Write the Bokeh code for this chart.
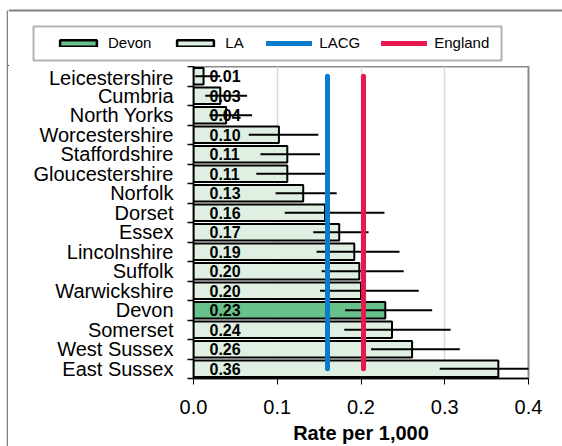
from bokeh.plotting import figure
from bokeh.models import (ColumnDataSource, Range1d, FixedTicker, NumeralTickFormatter,
                          Legend, LegendItem, BoxAnnotation, Span, Spacer)
from bokeh.layouts import column, row
from bokeh.core.properties import value
from bokeh.embed import file_html
from bokeh.resources import INLINE

# ---- data ----
areas = ["Leicestershire", "Cumbria", "North Yorks", "Worcestershire", "Staffordshire",
         "Gloucestershire", "Norfolk", "Dorset", "Essex", "Lincolnshire", "Suffolk",
         "Warwickshire", "Devon", "Somerset", "West Sussex", "East Sussex"]
rates = [0.012, 0.032, 0.039, 0.102, 0.112, 0.112, 0.131, 0.157, 0.174, 0.192, 0.198,
         0.200, 0.229, 0.237, 0.261, 0.364]
ci_low = [0.002, 0.014, 0.019, 0.066, 0.080, 0.075, 0.098, 0.109, 0.143, 0.147, 0.153,
          0.151, 0.181, 0.180, 0.212, 0.294]
ci_high = [0.032, 0.064, 0.070, 0.149, 0.151, 0.160, 0.171, 0.228, 0.209, 0.246, 0.251,
           0.269, 0.285, 0.307, 0.318, 0.450]
lacg_rate = 0.16
england_rate = 0.203
highlight = "Devon"
x_ticks = [0.0, 0.1, 0.2, 0.3, 0.4]
legend_labels = ["Devon", "LA", "LACG", "England"]

FONT = "Liberation Sans"
LA_FILL = "#dff0e3"
DEVON_FILL = "#68c08b"
BLUE = "#0a7ccc"
RED = "#e8174f"
BORDER_GRAY = "#808080"

n = len(areas)
ypos = [n - 1 - i for i in range(n)]
labels = ["%.2f" % v for v in rates]

la_idx = [i for i, a in enumerate(areas) if a != highlight]
dv_idx = [i for i, a in enumerate(areas) if a == highlight]


def sub(idx):
    return ColumnDataSource(dict(y=[ypos[i] for i in idx], v=[rates[i] for i in idx]))


src_all = ColumnDataSource(dict(y=ypos, v=rates, lo=ci_low, hi=ci_high, lab=labels))

# ---------------- main chart ----------------
W = 554
p = figure(width=W, height=380, output_backend="svg", toolbar_location=None,
           x_range=Range1d(0, 0.4), y_range=Range1d(-0.5, n - 0.5),
           min_border_left=185, min_border_right=34, min_border_top=0, min_border_bottom=63)
p.frame_align = False
p.background_fill_color = "white"
p.border_fill_color = "white"
p.outline_line_color = "#8a8a8a"
p.outline_line_width = 2

BAR_STYLE = dict(line_color="black", line_width=2)
r_la = p.hbar(y="y", right="v", left=0, height=0.84, source=sub(la_idx),
              fill_color=LA_FILL, **BAR_STYLE)
r_dv = p.hbar(y="y", right="v", left=0, height=0.84, source=sub(dv_idx),
              fill_color=DEVON_FILL, **BAR_STYLE)

p.text(x=0, y="y", text="lab", source=src_all, x_offset=16, text_align="left",
       text_baseline="middle", text_font=value(FONT), text_font_style="bold",
       text_font_size="16px", text_color="black")

p.segment(x0="lo", y0="y", x1="hi", y1="y", source=src_all, line_color="black", line_width=2)

ymin, ymax = min(ypos), max(ypos)
p.line(x=[lacg_rate, lacg_rate], y=[ymin, ymax], line_color=BLUE, line_width=5,
       line_cap="round")
p.line(x=[england_rate, england_rate], y=[ymin, ymax], line_color=RED, line_width=5,
       line_cap="round")

xa = p.xaxis[0]
xa.ticker = FixedTicker(ticks=x_ticks)
xa.formatter = NumeralTickFormatter(format="0.0")
xa.axis_label = "Rate per 1,000"
xa.axis_label_text_font = FONT
xa.axis_label_text_font_style = "bold"
xa.axis_label_text_font_size = "20px"
xa.axis_label_text_color = "black"
xa.axis_label_standoff = 5
xa.major_label_text_font = FONT
xa.major_label_text_font_size = "20px"
xa.major_label_text_color = "black"
xa.major_label_standoff = 15
xa.major_tick_in = 0
xa.major_tick_out = 6
xa.major_tick_line_color = "black"
xa.minor_tick_line_color = None
xa.axis_line_color = "black"
xa.axis_line_width = 1.5

ya = p.yaxis[0]
ya.ticker = FixedTicker(ticks=ypos, minor_ticks=[y - 0.5 for y in range(n + 1)])
ya.major_label_overrides = {ypos[i]: areas[i] for i in range(n)}
ya.major_label_text_font = FONT
ya.major_label_text_font_size = "20px"
ya.major_label_text_color = "black"
ya.major_label_standoff = 14
ya.major_tick_in = 0
ya.major_tick_out = 0
ya.minor_tick_in = 0
ya.minor_tick_out = 6
ya.minor_tick_line_color = "black"
ya.minor_tick_line_width = 1.5
ya.axis_line_color = "black"
ya.axis_line_width = 1.5

p.xgrid.grid_line_color = "#d9d9d9"
p.xgrid.grid_line_width = 1.5
p.ygrid.grid_line_color = None

# ---------------- header with legend ----------------
TOP_H = 66
top = figure(width=W, height=TOP_H, output_backend="svg", toolbar_location=None,
             x_range=Range1d(0, W), y_range=Range1d(0, TOP_H),
             x_axis_type=None, y_axis_type=None, min_border=0)
top.frame_align = False
top.grid.grid_line_color = None
top.outline_line_color = None
top.background_fill_color = "white"
top.border_fill_color = "white"

# chart-area border (top edge)
top.add_layout(Span(location=TOP_H - 10, dimension="width", line_color=BORDER_GRAY,
                    line_width=2))
# legend frame
top.add_layout(BoxAnnotation(left=25, right=493, top=TOP_H - 26, bottom=TOP_H - 60,
                             fill_color="white", fill_alpha=1.0,
                             line_color="black", line_width=2))

# legend-only renderers: one point each, far outside the visible range
hidden = lambda: ColumnDataSource(dict(x=[-1000, -990], y=[-1000, -1000], v=[-995, -995]))
LEG_BAR = dict(line_color="black", line_width=2.5)
l_dv = top.hbar(y="y", right="v", left="x", height=1, source=hidden(),
                fill_color=DEVON_FILL, **LEG_BAR)
l_la = top.hbar(y="y", right="v", left="x", height=1, source=hidden(),
                fill_color=LA_FILL, **LEG_BAR)
l_lacg = top.line(x="x", y="y", source=hidden(), line_color=BLUE, line_width=5,
                  line_cap="round")
l_eng = top.line(x="x", y="y", source=hidden(), line_color=RED, line_width=5,
                 line_cap="round")

legend = Legend(items=[LegendItem(label=lab, renderers=[r])
                       for lab, r in zip(legend_labels, [l_dv, l_la, l_lacg, l_eng])],
                orientation="horizontal", location=(47, 15),
                glyph_width=46, glyph_height=8, label_height=16, label_standoff=7,
                spacing=21, padding=0, margin=0,
                label_text_font=FONT, label_text_font_size="15px", label_text_color="black",
                border_line_color=None, background_fill_alpha=0.0)
top.add_layout(legend, "center")

# ---------------- left border strip ----------------
strip = figure(width=2, height=446, output_backend="svg", toolbar_location=None,
               x_range=Range1d(0, 1), y_range=Range1d(0, 446),
               x_axis_type=None, y_axis_type=None, min_border=0)
strip.frame_align = False
strip.grid.grid_line_color = None
strip.outline_line_color = None
strip.background_fill_color = "white"
strip.border_fill_color = "white"
strip.add_layout(BoxAnnotation(top=436, fill_color=BORDER_GRAY, fill_alpha=1.0,
                               line_color=None))

layout = row(Spacer(width=6, height=446), strip, column(top, p, spacing=0), spacing=0)

open("out.html", "w").write(file_html(layout, INLINE))
